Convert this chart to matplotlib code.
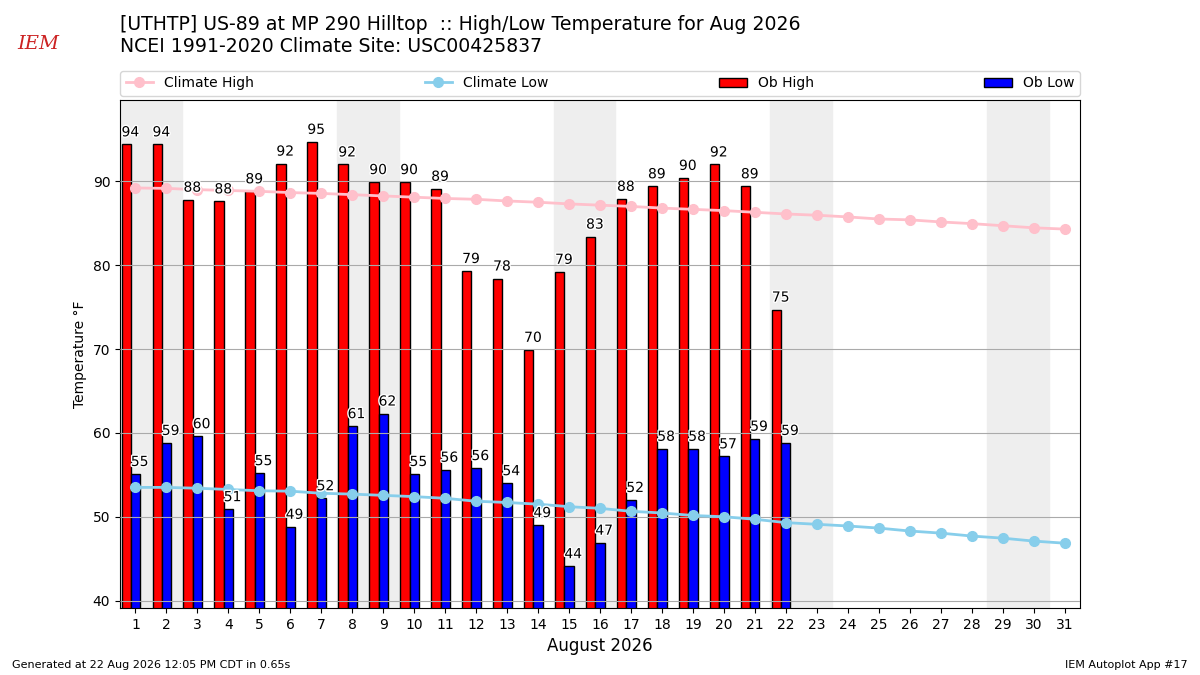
import numpy as np
import matplotlib
matplotlib.use('Agg')
import matplotlib.pyplot as plt
import matplotlib.patheffects as PathEffects

days = np.arange(1, 32)
ob_days = np.arange(1, 23)
ob_high = [94.4, 94.4, 87.8, 87.6, 88.8, 92.1, 94.7, 92.0, 89.9, 89.9, 89.1,
           79.3, 78.4, 69.9, 79.2, 83.4, 87.9, 89.4, 90.4, 92.0, 89.4, 74.7]
ob_low = [55.1, 58.8, 59.6, 50.9, 55.2, 48.8, 52.2, 60.8, 62.3, 55.1, 55.6,
          55.8, 54.0, 49.0, 44.1, 46.9, 52.0, 58.1, 58.1, 57.2, 59.3, 58.8]
clim_high = [89.2, 89.15, 89.0, 88.9, 88.8, 88.65, 88.55, 88.4, 88.25, 88.1,
             87.95, 87.85, 87.65, 87.5, 87.3, 87.15, 87.0, 86.8, 86.65, 86.5,
             86.3, 86.1, 85.95, 85.75, 85.5, 85.4, 85.15, 84.95, 84.7, 84.45, 84.3]
clim_low = [53.5, 53.5, 53.4, 53.25, 53.1, 53.05, 52.8, 52.7, 52.55, 52.4,
            52.2, 51.85, 51.7, 51.5, 51.2, 51.0, 50.65, 50.45, 50.15, 50.0,
            49.7, 49.3, 49.1, 48.9, 48.65, 48.3, 48.05, 47.7, 47.45, 47.1, 46.85]
weekends = [1, 8, 15, 22, 29]  # Saturdays

fig = plt.figure(figsize=(12, 6.75), dpi=100)
ax = fig.add_axes([0.1, 0.099, 0.8, 0.753])

for d in weekends:
    ax.axvspan(d - 0.5, d + 1.5, color='#EEEEEE', zorder=1)

ax.bar(ob_days - 0.3, ob_high, width=0.3, fc='r', ec='k', zorder=2, label='Ob High')
ax.bar(ob_days, ob_low, width=0.3, fc='b', ec='k', zorder=2, label='Ob Low')
ax.plot(days, clim_high, color='pink', marker='o', lw=2, ms=7, zorder=3, label='Climate High')
ax.plot(days, clim_low, color='skyblue', marker='o', lw=2, ms=7, zorder=3, label='Climate Low')

pe = [PathEffects.withStroke(linewidth=2, foreground='white')]
for d, hi, lo in zip(ob_days, ob_high, ob_low):
    t = ax.text(d - 0.45, hi + 0.6, f'{hi:.0f}', ha='left', va='bottom', fontsize=10, zorder=4)
    t.set_path_effects(pe)
    t = ax.text(d - 0.15, lo + 0.6, f'{lo:.0f}', ha='left', va='bottom', fontsize=10, zorder=4)
    t.set_path_effects(pe)

ax.set_xlim(0.5, 31.5)
ax.set_ylim(min(ob_low) - 5, max(ob_high) + 5)
ax.set_xticks(days)
ax.set_xlabel('August 2026', fontsize=12)
ax.set_ylabel('Temperature °F')
ax.yaxis.grid(True, color='#aaaaaa', zorder=0)
ax.set_axisbelow(False)

ax.legend(bbox_to_anchor=(0, 1.008, 1, 0.05), loc='lower left', ncol=4,
          mode='expand', borderaxespad=0, fontsize=10)

fig.text(0.1, 0.978, '[UTHTP] US-89 at MP 290 Hilltop  :: High/Low Temperature for Aug 2026\n'
         'NCEI 1991-2020 Climate Site: USC00425837', ha='left', va='top', fontsize=13.6)
fig.text(0.032, 0.935, 'IEM', color='#cc2222', fontsize=14, style='italic',
         family='DejaVu Serif', ha='center', va='center')
fig.text(0.01, 0.01, 'Generated at 22 Aug 2026 12:05 PM CDT in 0.65s', fontsize=8)
fig.text(0.99, 0.01, 'IEM Autoplot App #17', fontsize=8, ha='right')

fig.savefig('out.png', dpi=100)
